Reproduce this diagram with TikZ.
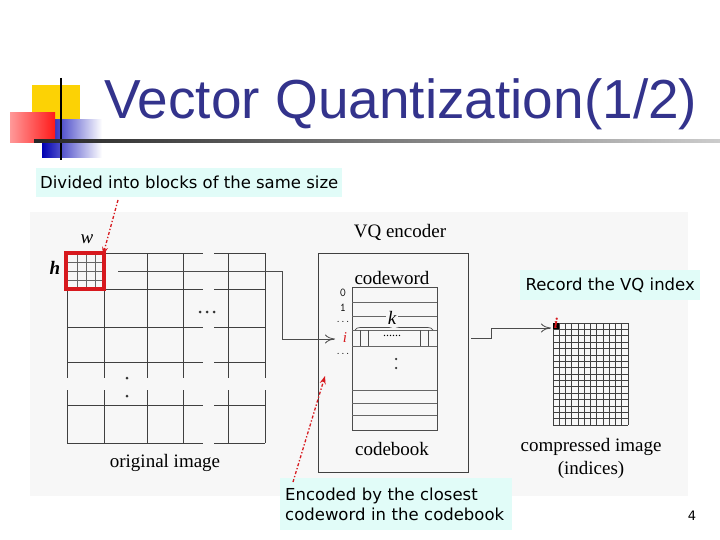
\documentclass[tikz,border=0pt]{standalone}
\usepackage{fontspec}
\setmainfont{Liberation Serif}
\newfontfamily\ssf{DejaVu Sans}
\newfontfamily\tit{Liberation Sans}
\usetikzlibrary{arrows.meta,decorations.pathreplacing,shadings}
\definecolor{cyanbox}{RGB}{225,252,248}
\definecolor{titblue}{RGB}{51,51,140}
\definecolor{redbox}{RGB}{215,25,30}
\tikzset{
 lab/.style={fill=cyanbox,inner sep=4pt,font=\ssf\fontsize{16.5}{20}\selectfont,align=left},
 ser/.style={font=\fontsize{19}{21}\selectfont,inner sep=0pt},
 grd/.style={draw=black!75,line width=0.7pt},
 redarr/.style={draw=redbox,line width=1.3pt,dash dot,-{Stealth[length=8pt,width=6pt]}},
 openarr/.style={draw=black!70,line width=0.8pt,-{To[length=10pt,width=9pt]}},
 tt/.style={font=\ttfamily\fontsize{12}{13}\selectfont,inner sep=0pt},
 dotc/.style={fill=black!80,circle,inner sep=0pt,minimum size=3pt}
}
\begin{document}
\begin{tikzpicture}[x=1pt,y=-1pt]
\useasboundingbox (0,0) rectangle (720,540);
\fill[white] (0,0) rectangle (720,540);
% logo
\fill[yellow!70!orange] (32,85) rectangle (80,131);
\shade[left color=blue!70!black,right color=white] (42,120) rectangle (102,158);
\shade[left color=red!40,right color=red!90] (10,113) rectangle (55,143);
\draw[line width=2pt] (61,78) -- (61,160);
\shade[left color=black!85,right color=black!20] (34,140) rectangle (720,142.5);
\node[anchor=base west,text=titblue,font=\tit\fontsize{55}{60}\selectfont,inner sep=0] (title) at (104,119) {Vector Quantization(1/2)};
% figure background
\fill[black!3] (30,212) rectangle (688,496);
% original image grid
\foreach \x in {67,104,147,183,228,265} \draw[grd] (\x,253) -- (\x,443);
\foreach \y in {253,289,327,362,405,443} \draw[grd] (67,\y) -- (265,\y);
\fill[black!3] (62,378) rectangle (268,390);
\fill[black!3] (203,250) rectangle (214,446);
\foreach \x in {77,86,95} \draw[black!60,line width=0.5pt] (\x,253)--(\x,289);
\foreach \y in {262,271,280} \draw[black!60,line width=0.5pt] (67,\y)--(104,\y);
\draw[redbox,line width=3.5pt] (66,253) rectangle (104,289);
\node[ser,font=\itshape\fontsize{19}{21}\selectfont] (w) at (87,239) {w};
\node[ser,font=\itshape\bfseries\fontsize{19}{21}\selectfont] (h) at (55,268) {h};
\node[dotc] (hd1) at (200,312) {};
\node[dotc] (hd2) at (207,312) {};
\node[dotc] (hd3) at (214,312) {};
\node[dotc] (vd1) at (127,378) {};
\node[dotc] (vd2) at (127,396) {};
\node[ser] (orig) at (165,463) {original image};
% VQ encoder
\node[ser] (enc) at (400,232) {VQ encoder};
\draw[black!75,line width=0.8pt] (318,253) rectangle (468,472);
\node[ser] (cw) at (392,278) {codeword};
\draw[black!70,line width=0.7pt] (352,287) rectangle (437,430);
\foreach \y in {302,316,330,346,390,403,415} \draw[black!60,line width=0.6pt] (352,\y)--(437,\y);
\foreach \x in {360,368,420,428} \draw[black!70,line width=0.7pt] (\x,330)--(\x,346);
\node[ser,font=\fontsize{12}{12}\selectfont] (dots) at (392,336) {......};
\draw[black!70,line width=0.7pt,decorate,decoration={brace,amplitude=5pt}] (355,330) -- (433,330);
\node[ser,font=\itshape\fontsize{19}{21}\selectfont,fill=black!3,inner sep=2pt] (k) at (392,318) {k};
\node[dotc,minimum size=2.5pt] (cd1) at (396,359) {};
\node[dotc,minimum size=2.5pt] (cd2) at (396,368) {};
\node[ser] (cb) at (392,449) {codebook};
\node[tt] (n0) at (343,293) {0};
\node[tt] (n1) at (343,308) {1};
\node[tt,font=\ttfamily\fontsize{9}{10}\selectfont] (n2) at (343,322) {...};
\node[ser,text=redbox,font=\itshape\fontsize{15}{16}\selectfont] (ni) at (345,338) {i};
\node[tt,font=\ttfamily\fontsize{9}{10}\selectfont] (n3) at (343,354) {...};
\coordinate (c1) at (118,271);
\coordinate (c2) at (335,339);
\draw[openarr] (c1) -- (282,271) -- (282,339) -- (c2);
% compressed image
\foreach \i in {0,...,12} \draw[black!75,line width=0.6pt] (553+\i*6.25,323) -- (553+\i*6.25,425);
\foreach \j in {0,...,16} \draw[black!75,line width=0.6pt] (553,323+\j*6.375) -- (628,323+\j*6.375);
\fill[black] (553,323) rectangle (559.25,329.4);
\node[ser,text=redbox,font=\itshape\bfseries\fontsize{15}{16}\selectfont] (ci) at (556,323) {i};
\coordinate (o1) at (471,338);
\coordinate (o2) at (551,328);
\draw[openarr] (o1) -- (491,338) -- (491,328) -- (o2);
\node[ser] (comp) at (591,447) {compressed image};
\node[ser] (ind) at (591,470) {(indices)};
% labels
\node[lab,minimum width=299pt,minimum height=29pt,anchor=north west] (l1) at (36,168) {Divided into blocks of the same size};
\node[lab,minimum width=180pt,minimum height=30pt,anchor=north west] (l2) at (520,270) {Record the VQ index};
\node[lab,minimum width=232pt,minimum height=52pt,anchor=north west,text width=222pt] (l3) at (280,478) {Encoded by the closest\\codeword in the codebook};
\node[font=\ssf\fontsize{13}{14}\selectfont] (pg) at (692,516) {4};
\coordinate (a1) at (118,200);
\coordinate (a2) at (103,255);
\draw[redarr] (a1) -- (a2);
\coordinate (b1) at (293,482);
\coordinate (b2) at (325,376);
\draw[redarr] (b1) -- (b2);
\end{tikzpicture}
\end{document}
